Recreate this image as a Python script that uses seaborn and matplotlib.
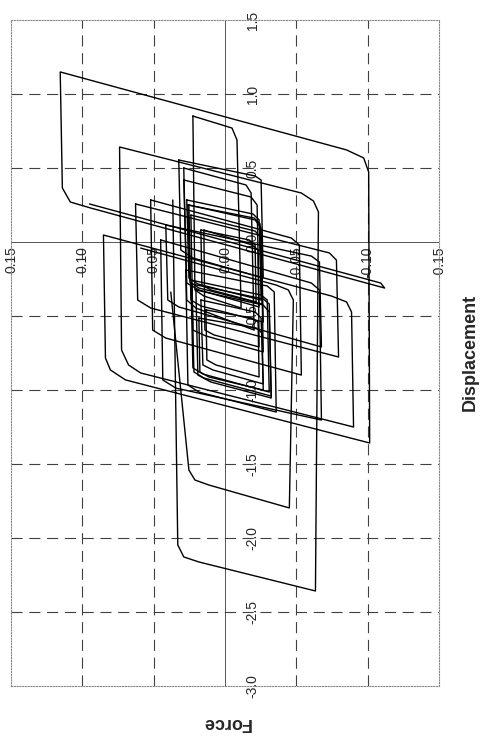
import matplotlib
matplotlib.use("Agg")
import matplotlib.pyplot as plt
import pandas as pd
import seaborn as sns

# Hysteresis record: force vs. displacement, traced as connected branches.
# Long continuous branch through the largest excursions.
outer_disp = [0.0366, 0.0331, 0.0289, 0.0183, -0.0634, -0.0655, -0.0620, -0.0535,
              0.0739, 0.0725, 0.0676, 0.0591, -0.0901, -0.0887, -0.0852, -0.0746,
              0.0852, 0.0838, 0.0803, 0.0697, -0.1014, -0.1007, -0.0972, -0.0852,
              0.1155, 0.1140, 0.1084, 0.0943, -0.1119, -0.1091, 0.0950]
outer_force = [0.284, -2.047, -2.128, -2.162, -2.358, 0.203, 0.277, 0.331,
               0.642, -0.730, -0.831, -0.885, -1.250, -0.473, -0.405, -0.365,
               0.047, -0.784, -0.865, -0.932, -1.358, 0.473, 0.568, 0.622,
               1.149, 0.365, 0.270, 0.230, -0.311, -0.277, 0.257]

# Branch reaching the second-lowest force level
lower_disp = [0.0380, 0.0253, 0.0211, 0.0113, -0.0451, -0.0479, -0.0444, -0.0359, 0.0591]
lower_force = [-0.338, -1.541, -1.608, -1.642, -1.797, -0.392, -0.324, -0.291, -0.041]

# Individual cycles (reversal points and yield corners)
m1_disp = [0.0225, 0.0211, 0.0148, -0.0113, -0.0084, -0.0049, 0.0225]
m1_force = [0.851, -0.324, -0.365, -0.446, 0.689, 0.770, 0.851]
m2_disp = [0.0289, 0.0268, 0.0204, -0.0204, -0.0183, -0.0148, 0.0289]
m2_force = [0.500, -0.392, -0.446, -0.595, 0.331, 0.385, 0.500]
c1_disp = [0.0289, 0.0268, 0.0183, -0.0239, -0.0225, -0.0183, 0.0289]
c1_force = [0.419, -0.277, -0.324, -0.439, 0.250, 0.304, 0.419]
c2_disp = [0.0253, 0.0239, 0.0169, -0.0268, -0.0253, -0.0211, 0.0253]
c2_force = [0.250, -0.392, -0.432, -0.541, 0.095, 0.149, 0.250]
c3_disp = [0.0239, 0.0225, 0.0134, -0.0268, -0.0253, -0.0211, 0.0239]
c3_force = [0.182, -0.595, -0.635, -0.743, 0.027, 0.074, 0.182]
c4_disp = [0.0204, 0.0190, 0.0099, -0.0324, -0.0310, -0.0268, 0.0204]
c4_force = [-0.324, -0.899, -0.946, -1.054, -0.473, -0.426, -0.324]
c5_disp = [0.0169, 0.0155, 0.0084, -0.0268, -0.0253, -0.0211, 0.0169]
c5_force = [-0.392, -0.831, -0.865, -0.959, -0.514, -0.473, -0.392]
c6_disp = [0.0275, 0.0260, 0.0183, -0.0359, -0.0345, -0.0296, 0.0275]
c6_force = [-0.189, -0.966, -1.014, -1.149, -0.338, -0.297, -0.189]
c7_disp = [0.0324, 0.0310, 0.0225, -0.0268, -0.0253, -0.0211, 0.0324]
c7_force = [0.554, -0.054, -0.108, -0.243, 0.419, 0.446, 0.554]
c8_disp = [0.0169, 0.0162, 0.0099, -0.0218, -0.0211, -0.0169, 0.0169]
c8_force = [0.081, -0.291, -0.324, -0.405, -0.020, 0.014, 0.081]
c9_disp = [0.0134, 0.0127, 0.0063, -0.0239, -0.0232, -0.0190, 0.0134]
c9_force = [-0.459, -0.797, -0.831, -0.912, -0.541, -0.514, -0.459]
c10_disp = [0.0521, 0.0507, 0.0415, -0.0535, -0.0521, -0.0465, 0.0521]
c10_force = [0.284, -0.595, -0.649, -0.899, -0.020, 0.027, 0.284]
c11_disp = [0.0451, 0.0436, 0.0345, -0.0676, -0.0662, -0.0605, 0.0451]
c11_force = [0.014, -0.932, -0.987, -1.203, -0.324, -0.277, 0.014]
c12_disp = [0.0627, 0.0612, 0.0521, -0.0796, -0.0781, -0.0732, 0.0627]
c12_force = [0.257, -0.392, -0.446, -0.777, -0.122, -0.074, 0.257]
c13_disp = [0.0415, 0.0401, 0.0324, -0.0676, -0.0662, -0.0605, 0.0415]
c13_force = [0.115, -0.392, -0.439, -0.709, -0.135, -0.095, 0.115]
# small repeated cycles around the origin
d1_disp = [0.0268, 0.0253, 0.0190, -0.0253, -0.0239, -0.0197, 0.0268]
d1_force = [0.284, -0.243, -0.284, -0.392, 0.149, 0.189, 0.284]
d2_disp = [0.0260, 0.0246, 0.0183, -0.0260, -0.0246, -0.0204, 0.0260]
d2_force = [0.250, -0.270, -0.311, -0.419, 0.122, 0.162, 0.250]
d3_disp = [0.0239, 0.0225, 0.0155, -0.0310, -0.0296, -0.0253, 0.0239]
d3_force = [-0.257, -0.851, -0.892, -1.014, -0.392, -0.358, -0.257]
d4_disp = [0.0232, 0.0218, 0.0148, -0.0324, -0.0310, -0.0268, 0.0232]
d4_force = [-0.284, -0.878, -0.919, -1.041, -0.419, -0.385, -0.284]
d5_disp = [0.0183, 0.0176, 0.0113, -0.0268, -0.0260, -0.0218, 0.0183]
d5_force = [-0.514, -0.878, -0.912, -1.000, -0.615, -0.581, -0.514]
d6_disp = [0.0148, 0.0141, 0.0077, -0.0239, -0.0232, -0.0190, 0.0148]
d6_force = [0.081, -0.595, -0.628, -0.709, -0.054, -0.020, 0.081]

# Axis ticks and their labels
disp_ticks = [0.15, 0.10, 0.05, 0.00, -0.05, -0.10, -0.15]
disp_labels = ["0.15", "0.10", "0.05", "0.00", "-0.05", "-0.10", "-0.15"]
force_ticks = [1.5, 1.0, 0.5, 0.0, -0.5, -1.0, -1.5, -2.0, -2.5, -3.0]
force_labels = ["1.5", "1.0", "0.5", "0.0", "-0.5", "-1.0", "-1.5", "-2.0", "-2.5", "-3.0"]

branches = {
    "outer": (outer_disp, outer_force),
    "lower": (lower_disp, lower_force),
    "m1": (m1_disp, m1_force), "m2": (m2_disp, m2_force),
    "c1": (c1_disp, c1_force), "c2": (c2_disp, c2_force),
    "c3": (c3_disp, c3_force), "c4": (c4_disp, c4_force),
    "c5": (c5_disp, c5_force), "c6": (c6_disp, c6_force),
    "c7": (c7_disp, c7_force), "c8": (c8_disp, c8_force),
    "c9": (c9_disp, c9_force), "c10": (c10_disp, c10_force),
    "c11": (c11_disp, c11_force), "c12": (c12_disp, c12_force),
    "c13": (c13_disp, c13_force),
    "d1": (d1_disp, d1_force), "d2": (d2_disp, d2_force),
    "d3": (d3_disp, d3_force), "d4": (d4_disp, d4_force),
    "d5": (d5_disp, d5_force), "d6": (d6_disp, d6_force),
}
df = pd.concat(
    [pd.DataFrame({"disp": d, "force": f, "branch": name, "step": range(len(d))})
     for name, (d, f) in branches.items()],
    ignore_index=True,
)

sns.set_style("white")
plt.rcParams["font.family"] = ["Liberation Sans", "DejaVu Sans"]

fig = plt.figure(figsize=(4.91, 7.40), dpi=100)
ax = fig.add_axes([11 / 491, 1 - 686 / 740, 428 / 491, 666 / 740])

# dashed grid, solid zero lines
for d in disp_ticks:
    if d == 0:
        ax.axvline(d, color="#555555", lw=0.7, zorder=1)
    elif abs(d) < 0.14:
        ax.axvline(d, color="#404040", lw=0.8, dashes=(10, 6), zorder=1)
for f in force_ticks:
    if f == 0:
        ax.axhline(f, color="#555555", lw=0.7, zorder=1)
    elif -2.9 < f < 1.4:
        ax.axhline(f, color="#404040", lw=0.8, dashes=(10, 6), zorder=1)

sns.lineplot(data=df, x="disp", y="force", units="branch", estimator=None,
             sort=False, color="black", lw=1.0, ax=ax, legend=False, zorder=3)

ax.set_xlim(0.15, -0.15)
ax.set_ylim(-3.0, 1.5)
ax.set_xticks([])
ax.set_yticks([])
ax.set_xlabel("")
ax.set_ylabel("")
for s in ax.spines.values():
    s.set_linestyle((0, (1, 1.5)))
    s.set_color("#888888")
    s.set_linewidth(0.8)

# tick labels sit on the zero lines
for d, lab in zip(disp_ticks, disp_labels):
    ax.annotate(lab, (d, 0), xytext=(0, -3), textcoords="offset points",
                rotation=90, ha="center", va="top", fontsize=10,
                annotation_clip=False, zorder=2)
for f, lab in zip(force_ticks, force_labels):
    ax.annotate(lab, (0, f), xytext=(15, 0), textcoords="offset points",
                rotation=90, ha="left", va="center", fontsize=10,
                annotation_clip=False, zorder=2)

fig.text(470 / 491, 1 - 352 / 740, "Displacement", rotation=90, ha="center",
         va="center", fontweight="bold", fontsize=13)
fig.text(226 / 491, 1 - 723 / 740, "Force", rotation=180, ha="center",
         va="center", fontweight="bold", fontsize=13)

fig.savefig("out.png", dpi=100, facecolor="white")
